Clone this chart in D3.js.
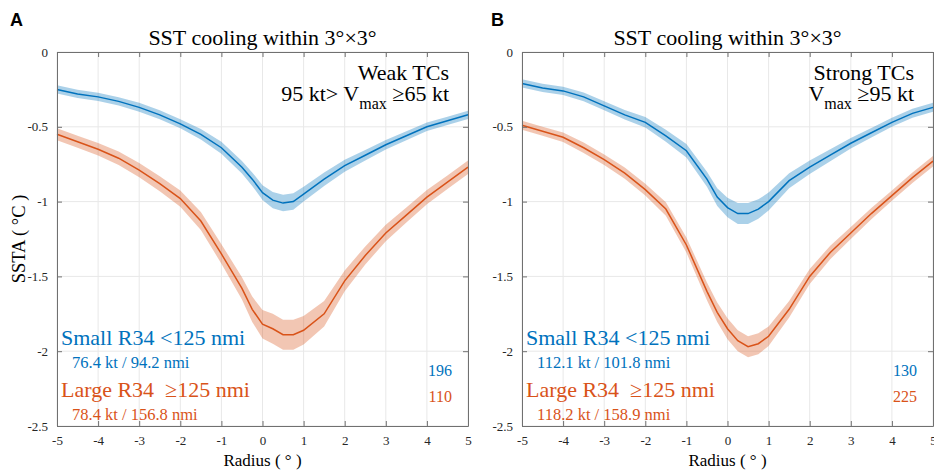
<!DOCTYPE html>
<html lang="en">
<head>
<meta charset="UTF-8">
<title>SST cooling within 3x3</title>
<script src="https://d3js.org/d3.v7.min.js"></script>
<style>
  body { margin: 0; background: #fff; }
  svg { display: block; font-family: "Liberation Serif", "Times New Roman", serif; }
</style>
</head>
<body>
<div id="chart"></div>
<script>
// radius bins (degrees)
const radius = [-5, -4.5, -4, -3.5, -3, -2.5, -2, -1.5, -1, -0.5, -0.25, 0, 0.25, 0.5, 0.75, 1, 1.5, 2, 2.5, 3, 3.5, 4, 4.5, 5];

// panel A - weak TCs
const smallA    = [-0.25, -0.28, -0.30, -0.33, -0.37, -0.42, -0.48, -0.55, -0.64, -0.77, -0.85, -0.94, -0.99, -1.01, -1.00, -0.95, -0.85, -0.76, -0.69, -0.62, -0.56, -0.50, -0.46, -0.42];
const smallAErr = [0.028, 0.028, 0.028, 0.028, 0.03, 0.03, 0.03, 0.035, 0.04, 0.042, 0.045, 0.05, 0.055, 0.055, 0.055, 0.05, 0.045, 0.04, 0.035, 0.032, 0.03, 0.028, 0.028, 0.028];
const largeA    = [-0.55, -0.60, -0.65, -0.71, -0.79, -0.88, -0.98, -1.13, -1.35, -1.58, -1.72, -1.82, -1.85, -1.89, -1.89, -1.86, -1.75, -1.53, -1.36, -1.21, -1.09, -0.97, -0.87, -0.77];
const largeAErr = [0.04, 0.04, 0.042, 0.045, 0.048, 0.05, 0.055, 0.06, 0.065, 0.075, 0.085, 0.095, 0.1, 0.1, 0.1, 0.095, 0.085, 0.07, 0.06, 0.055, 0.05, 0.048, 0.045, 0.045];

// panel B - strong TCs
const smallB    = [-0.21, -0.24, -0.26, -0.30, -0.36, -0.42, -0.47, -0.56, -0.66, -0.85, -0.97, -1.04, -1.08, -1.08, -1.05, -1.00, -0.86, -0.77, -0.69, -0.61, -0.54, -0.47, -0.41, -0.37];
const smallBErr = [0.028, 0.028, 0.028, 0.03, 0.03, 0.032, 0.035, 0.04, 0.045, 0.05, 0.06, 0.065, 0.07, 0.07, 0.065, 0.06, 0.05, 0.045, 0.04, 0.035, 0.032, 0.03, 0.03, 0.03];
const largeB    = [-0.49, -0.53, -0.57, -0.64, -0.72, -0.81, -0.92, -1.05, -1.29, -1.60, -1.74, -1.85, -1.93, -1.97, -1.95, -1.90, -1.72, -1.50, -1.34, -1.21, -1.08, -0.96, -0.84, -0.73];
const largeBErr = [0.03, 0.03, 0.032, 0.035, 0.035, 0.038, 0.04, 0.045, 0.05, 0.06, 0.065, 0.07, 0.07, 0.07, 0.07, 0.065, 0.055, 0.05, 0.045, 0.04, 0.038, 0.035, 0.035, 0.035];

const xTicks = [-5, -4, -3, -2, -1, 0, 1, 2, 3, 4, 5];
const yTicks = [0, -0.5, -1, -1.5, -2, -2.5];

const blue = "#0072BD";
const orange = "#D95319";

const W = 934, H = 475;
const svg = d3.select("#chart").append("svg")
  .attr("width", W)
  .attr("height", H);

function drawPanel(p) {
  const x = d3.scaleLinear().domain([-5, 5]).range([p.left, p.right]);
  const y = d3.scaleLinear().domain([-2.5, 0]).range([p.bottom, p.top]);
  const g = svg.append("g");

  // grid
  g.selectAll(".vg").data(xTicks).enter().append("line")
    .attr("x1", d => x(d)).attr("x2", d => x(d))
    .attr("y1", p.top).attr("y2", p.bottom)
    .attr("stroke", "#e8e8e8").attr("stroke-width", 1);
  g.selectAll(".hg").data(yTicks).enter().append("line")
    .attr("x1", p.left).attr("x2", p.right)
    .attr("y1", d => y(d)).attr("y2", d => y(d))
    .attr("stroke", "#e8e8e8").attr("stroke-width", 1);

  // bands + lines
  p.series.forEach(s => {
    const area = d3.area()
      .x((d, i) => x(radius[i]))
      .y0((d, i) => y(d - s.err[i]))
      .y1((d, i) => y(d + s.err[i]));
    g.append("path").datum(s.values)
      .attr("d", area)
      .attr("fill", s.color)
      .attr("fill-opacity", 0.33);
    const line = d3.line()
      .x((d, i) => x(radius[i]))
      .y(d => y(d));
    g.append("path").datum(s.values)
      .attr("d", line)
      .attr("fill", "none")
      .attr("stroke", s.color)
      .attr("stroke-width", 1.5);
  });

  // axes, MATLAB-like box with inward ticks
  const xAxis = d3.axisBottom(x).tickValues(xTicks).tickSizeInner(-5).tickSizeOuter(0).tickPadding(10);
  const yAxis = d3.axisLeft(y).tickValues(yTicks).tickSizeInner(-5).tickSizeOuter(0).tickPadding(9).tickFormat(d => d);
  const gx = g.append("g").attr("transform", `translate(0,${p.bottom})`).call(xAxis);
  const gy = g.append("g").attr("transform", `translate(${p.left},0)`).call(yAxis);
  g.append("g").attr("transform", `translate(0,${p.top})`)
    .call(d3.axisTop(x).tickValues(xTicks).tickSizeInner(-5).tickSizeOuter(0).tickFormat(""));
  g.append("g").attr("transform", `translate(${p.right},0)`)
    .call(d3.axisRight(y).tickValues(yTicks).tickSizeInner(-5).tickSizeOuter(0).tickFormat(""));
  g.selectAll(".domain").attr("stroke", "#707070");
  g.selectAll(".tick line").attr("stroke", "#707070");
  [gx, gy].forEach(a => a.selectAll("text")
    .attr("font-family", "Liberation Serif")
    .attr("font-size", 13)
    .attr("fill", "#262626"));
  gx.selectAll("text").text(d => d < 0 ? "-" + Math.abs(d) : d);
  gy.selectAll("text").text(d => d < 0 ? "-" + Math.abs(d) : d);

  // panel letter
  svg.append("text")
    .attr("x", p.letterX).attr("y", 26)
    .attr("font-family", "Liberation Sans, Arial, sans-serif")
    .attr("font-weight", "bold").attr("font-size", 18)
    .text(p.letter);

  // title
  svg.append("text")
    .attr("x", (p.left + p.right) / 2).attr("y", 45)
    .attr("text-anchor", "middle").attr("font-size", 22)
    .text("SST cooling within 3°×3°");

  // category annotation
  svg.append("text")
    .attr("x", p.right - 19).attr("y", 80)
    .attr("text-anchor", "end").attr("font-size", 22)
    .text(p.cat1);
  const t2 = svg.append("text")
    .attr("x", p.right - 19).attr("y", 101)
    .attr("text-anchor", "end").attr("font-size", 22);
  t2.append("tspan").text(p.cat2a);
  t2.append("tspan").attr("font-size", 16).attr("dy", 8).text("max");
  t2.append("tspan").attr("dy", -8).text(" " + p.cat2b);

  // legend text
  svg.append("text").attr("x", p.left + 4).attr("y", 345)
    .attr("font-size", 22).attr("fill", blue).text("Small R34 <125 nmi");
  svg.append("text").attr("x", p.left + 15).attr("y", 368)
    .attr("font-size", 16.5).attr("fill", blue).text(p.smallInfo);
  svg.append("text").attr("x", p.left + 4).attr("y", 397)
    .attr("font-size", 22).attr("fill", orange).attr("xml:space", "preserve").text("Large R34  ≥125 nmi");
  svg.append("text").attr("x", p.left + 15).attr("y", 420)
    .attr("font-size", 16.5).attr("fill", orange).text(p.largeInfo);

  // sample counts
  svg.append("text").attr("x", p.right - 16).attr("y", 376)
    .attr("text-anchor", "end").attr("font-size", 16).attr("fill", blue).text(p.nSmall);
  svg.append("text").attr("x", p.right - 16).attr("y", 402)
    .attr("text-anchor", "end").attr("font-size", 16).attr("fill", orange).text(p.nLarge);

  // axis labels
  svg.append("text")
    .attr("x", (p.left + p.right) / 2).attr("y", 466)
    .attr("text-anchor", "middle").attr("font-size", 17)
    .attr("xml:space", "preserve")
    .text("Radius ( ° )");
  if (p.yLabel) {
    svg.append("text")
      .attr("transform", `translate(25,${(p.top + p.bottom) / 2}) rotate(-90)`)
      .attr("text-anchor", "middle").attr("font-size", 18.5)
      .attr("xml:space", "preserve")
      .text("SSTA ( °C )");
  }
}

drawPanel({
  left: 57, right: 468, top: 52, bottom: 426,
  letter: "A", letterX: 10, yLabel: true,
  cat1: "Weak TCs", cat2a: "95 kt> V", cat2b: "≥65 kt",
  smallInfo: "76.4 kt / 94.2 nmi", largeInfo: "78.4 kt / 156.8 nmi",
  nSmall: "196", nLarge: "110",
  series: [
    { values: largeA, err: largeAErr, color: orange },
    { values: smallA, err: smallAErr, color: blue }
  ]
});

drawPanel({
  left: 522, right: 933, top: 52, bottom: 426,
  letter: "B", letterX: 491, yLabel: false,
  cat1: "Strong TCs", cat2a: "V", cat2b: "≥95 kt",
  smallInfo: "112.1 kt / 101.8 nmi", largeInfo: "118.2 kt / 158.9 nmi",
  nSmall: "130", nLarge: "225",
  series: [
    { values: largeB, err: largeBErr, color: orange },
    { values: smallB, err: smallBErr, color: blue }
  ]
});
</script>
</body>
</html>
